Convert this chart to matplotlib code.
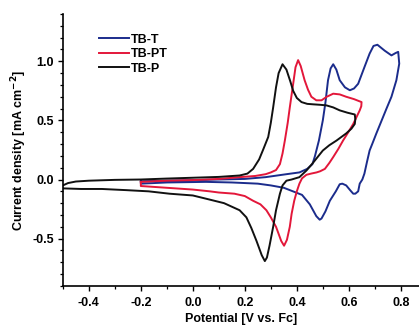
import matplotlib
matplotlib.use("Agg")
import matplotlib.pyplot as plt
from matplotlib.ticker import MultipleLocator

plt.rcParams['font.family'] = ['Liberation Sans', 'DejaVu Sans']

# Cyclic voltammograms: potential (V vs. Fc) and current density (mA cm^-2),
# listed in scan order (anodic sweep, switching point, cathodic sweep).
tbt_v = [-0.20, -0.10, 0.00, 0.10, 0.20, 0.28, 0.36, 0.41, 0.44, 0.46, 0.47,
         0.485, 0.50, 0.51, 0.52, 0.53, 0.54, 0.552, 0.565, 0.585, 0.604, 0.62,
         0.636, 0.66, 0.68, 0.695, 0.71, 0.738, 0.764, 0.78, 0.79,
         0.794, 0.783, 0.764, 0.745, 0.732, 0.706, 0.69, 0.68, 0.67, 0.66,
         0.652, 0.642, 0.636, 0.625, 0.617, 0.605, 0.59, 0.575, 0.565, 0.55,
         0.527, 0.51, 0.495, 0.488, 0.475, 0.46, 0.45, 0.42, 0.385, 0.35, 0.30,
         0.25, 0.15, 0.05, -0.10, -0.20, -0.20]
tbt_j = [-0.015, -0.01, -0.005, 0.0, 0.005, 0.02, 0.045, 0.06, 0.09, 0.13, 0.20,
         0.33, 0.50, 0.65, 0.84, 0.94, 0.975, 0.93, 0.84, 0.78, 0.755, 0.77,
         0.81, 0.95, 1.065, 1.13, 1.14, 1.09, 1.05, 1.07, 1.08,
         0.98, 0.84, 0.70, 0.60, 0.53, 0.39, 0.30, 0.245, 0.15, 0.05,
         0.0, -0.035, -0.10, -0.12, -0.12, -0.09, -0.05, -0.035, -0.04, -0.10,
         -0.18, -0.27, -0.33, -0.34, -0.31, -0.25, -0.21, -0.13, -0.10, -0.07, -0.05,
         -0.035, -0.025, -0.02, -0.025, -0.035, -0.015]

tbpt_v = [-0.20, -0.10, 0.00, 0.10, 0.18, 0.24, 0.28, 0.30, 0.32, 0.335, 0.345,
          0.354, 0.365, 0.373, 0.386, 0.395, 0.405, 0.415, 0.43, 0.443, 0.456,
          0.475, 0.495, 0.515, 0.54, 0.565, 0.59, 0.62, 0.649,
          0.648, 0.642, 0.63, 0.617, 0.598, 0.578, 0.56, 0.54, 0.525, 0.508,
          0.49, 0.476, 0.455, 0.437, 0.42, 0.41, 0.40, 0.39, 0.38, 0.373, 0.362,
          0.351, 0.34, 0.33, 0.32, 0.30, 0.283, 0.26, 0.232, 0.20, 0.16, 0.10,
          0.065, 0.00, -0.10, -0.20, -0.20]
tbpt_j = [-0.02, -0.01, -0.005, 0.005, 0.02, 0.03, 0.045, 0.06, 0.08, 0.13, 0.22,
          0.33, 0.48, 0.61, 0.81, 0.95, 1.01, 0.96, 0.84, 0.76, 0.70,
          0.67, 0.67, 0.70, 0.726, 0.72, 0.70, 0.68, 0.655,
          0.62, 0.585, 0.53, 0.47, 0.40, 0.33, 0.26, 0.19, 0.14, 0.09,
          0.07, 0.06, 0.05, 0.04, 0.01, -0.035, -0.10, -0.18, -0.29, -0.40, -0.51,
          -0.56, -0.52, -0.46, -0.40, -0.32, -0.26, -0.21, -0.18, -0.14, -0.12, -0.11,
          -0.10, -0.085, -0.07, -0.055, -0.02]

tbp_v = [-0.50, -0.48, -0.45, -0.40, -0.30, -0.20, -0.10, 0.00, 0.10, 0.18, 0.21,
         0.232, 0.255, 0.27, 0.29, 0.30, 0.309, 0.32, 0.33, 0.345, 0.36, 0.375,
         0.386, 0.40, 0.418, 0.44, 0.463, 0.49, 0.514, 0.54, 0.565, 0.595, 0.623,
         0.625, 0.623, 0.61, 0.59, 0.553, 0.525, 0.50, 0.48, 0.46, 0.437, 0.41,
         0.38, 0.36, 0.345, 0.335, 0.32, 0.309, 0.295, 0.285, 0.277, 0.265, 0.255,
         0.245, 0.225, 0.206, 0.18, 0.12, 0.065, 0.00, -0.09, -0.17, -0.255,
         -0.35, -0.43, -0.50]
tbp_j = [-0.05, -0.03, -0.017, -0.01, -0.003, 0.0, 0.008, 0.015, 0.022, 0.034, 0.05,
         0.09, 0.17, 0.25, 0.36, 0.48, 0.61, 0.78, 0.90, 0.975, 0.93, 0.83,
         0.75, 0.69, 0.655, 0.64, 0.636, 0.632, 0.627, 0.61, 0.585, 0.565, 0.55,
         0.51, 0.47, 0.43, 0.39, 0.33, 0.29, 0.245, 0.19, 0.135, 0.076, 0.02,
         0.0, -0.01, -0.05, -0.12, -0.26, -0.40, -0.56, -0.66, -0.69, -0.64, -0.58,
         -0.52, -0.41, -0.32, -0.26, -0.20, -0.17, -0.135, -0.12, -0.10, -0.09,
         -0.08, -0.08, -0.075]

series_names = ["TB-T", "TB-PT", "TB-P"]
series_colors = ["#1b2c8c", "#e3173a", "#111111"]

fig = plt.figure(figsize=(4.19, 3.26), dpi=100)
ax = fig.add_axes([0.150, 0.123, 0.850, 0.834])

for v, j, name, col in zip([tbt_v, tbpt_v, tbp_v], [tbt_j, tbpt_j, tbp_j],
                           series_names, series_colors):
    ax.plot(v, j, color=col, lw=1.4, label=name, solid_joinstyle='round')

ax.set_xlim(-0.5, 0.87)
ax.set_ylim(-0.9, 1.4)
ax.xaxis.set_major_locator(MultipleLocator(0.2))
ax.xaxis.set_minor_locator(MultipleLocator(0.1))
ax.yaxis.set_major_locator(MultipleLocator(0.5))
ax.yaxis.set_minor_locator(MultipleLocator(0.1))

for side in ("top", "right"):
    ax.spines[side].set_visible(False)
for side in ("left", "bottom"):
    ax.spines[side].set_linewidth(1.2)

ax.tick_params(axis='both', which='major', direction='out', length=3.5,
               width=1.0, labelsize=9, pad=3)
ax.tick_params(axis='x', which='major', pad=4.5)
ax.tick_params(axis='both', which='minor', direction='out', length=2.2, width=0.9)

fmt = plt.FuncFormatter(lambda x, p: f"{x:.1f}".replace("-0.0", "0.0"))
ax.xaxis.set_major_formatter(fmt)
ax.yaxis.set_major_formatter(fmt)
for lab in ax.get_xticklabels() + ax.get_yticklabels():
    lab.set_fontweight('bold')

ax.set_xlabel("Potential [V vs. Fc]", fontsize=9, fontweight='bold', labelpad=3)
ax.set_ylabel("Current density [mA cm$^{\\mathbf{-2}}$]", fontsize=9,
              fontweight='bold', labelpad=2)

leg = ax.legend(loc='upper left', bbox_to_anchor=(0.083, 0.95), frameon=False,
                fontsize=9, handlelength=2.4, handletextpad=0.2,
                labelspacing=0.2, borderpad=0)
for t in leg.get_texts():
    t.set_fontweight('bold')

fig.savefig("out.png", dpi=100)
